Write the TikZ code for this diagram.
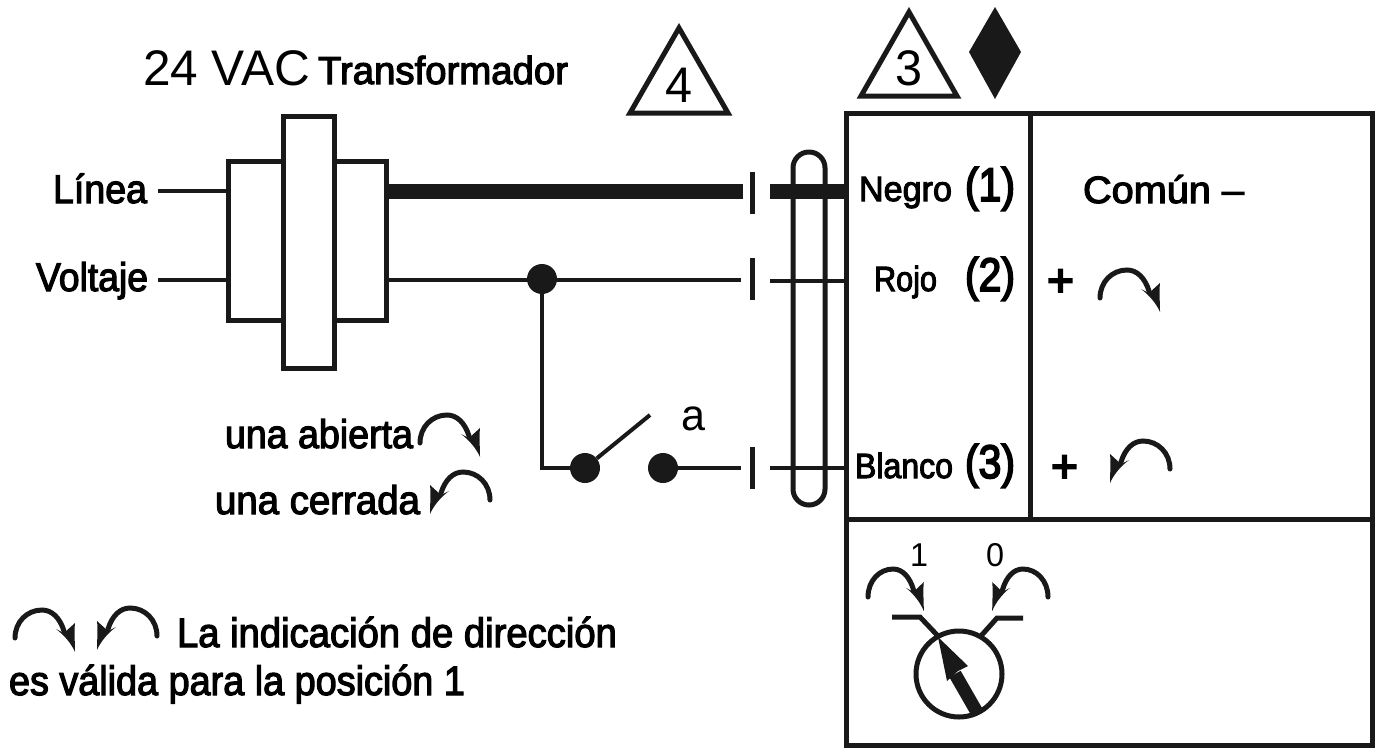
\documentclass[tikz,border=0pt]{standalone}
\usepackage{graphicx}
\usepackage{fontspec}
\setmainfont{Liberation Sans}
\newfontfamily\medf[FakeBold=3]{Liberation Sans}
\newfontfamily\hvyf[FakeBold=4]{Liberation Sans}
\newcommand{\TX}[4]{{#1\fontsize{#2}{#2}\selectfont\resizebox{#3pt}{\height}{#4}}}
\tikzset{
  wire/.style={line width=4pt,black!90},
  thickwire/.style={line width=15pt,black!90},
  frame/.style={line width=5pt,black!90},
  lab/.style={anchor=base west,inner sep=0pt,outer sep=0pt,text=black},
  dot/.style={circle,fill=black!90,minimum size=30pt,inner sep=0pt},
  tick/.style={line width=5pt,black!90},
  tri/.style={line width=5pt,black!90,line join=miter},
  bend/.pic={
    \draw[line width=5pt,black!90,line cap=round] (0,0) .. controls (0,-16) and (12,-28) .. (27,-28) .. controls (37,-28) and (45,-20) .. (49,-7);
    \fill[black!90] (60,14) .. controls (56,5) and (49,-3) .. (41,-9) -- (49,-5) -- (60,-15) .. controls (59,-6) and (60,4) .. cycle;
  }
}
\begin{document}
\begin{tikzpicture}[x=1pt,y=-1pt]
\useasboundingbox (0,0) rectangle (1376,748);
% device box
\coordinate (bTL) at (846,113); \coordinate (bBR) at (1372,745);
\draw[frame] (bTL) rectangle (bBR);
\coordinate (dT) at (1030,113); \coordinate (dB) at (1030,519);
\draw[frame] (dT) -- (dB);
\coordinate (hL) at (846,519); \coordinate (hR) at (1372,519);
\draw[frame] (hL) -- (hR);
% transformer
\coordinate (t1) at (228,161); \coordinate (t2) at (386,320);
\draw[frame] (t1) rectangle (t2);
\coordinate (c1) at (283,116); \coordinate (c2) at (334,368);
\draw[frame,fill=white] (c1) rectangle (c2);
% line stubs
\coordinate (lL) at (158,191); \coordinate (lR) at (228,191);
\coordinate (vL) at (158,280); \coordinate (vR) at (228,280);
\draw[wire] (lL) -- (lR); \draw[wire] (vL) -- (vR);
% thick wire
\coordinate (a1) at (388,191); \coordinate (a2) at (743,191);
\coordinate (a3) at (770,191); \coordinate (a4) at (846,191);
\draw[thickwire] (a1) -- (a2); \draw[thickwire] (a3) -- (a4);
% red wire
\coordinate (b1) at (386,280); \coordinate (b2) at (741,280);
\coordinate (b3) at (770,281); \coordinate (b4) at (846,281);
\draw[wire] (b1) -- (b2); \draw[wire] (b3) -- (b4);
% white wire
\coordinate (w2) at (741,468);
\coordinate (w3) at (770,468); \coordinate (w4) at (846,468);
\draw[wire] (w3) -- (w4);
% ticks
\foreach \n/\y in {p/193,q/279,r/468}{
  \coordinate (\n1) at (752,\y-21); \coordinate (\n2) at (752,\y+21);
  \draw[tick] (\n1) -- (\n2);
}
% cable loop
\draw[line width=5pt,black!90,rounded corners=15.9pt] (793,152) rectangle (825,505);
% junction and switch
\node[dot] (j) at (542,279) {};
\node[dot] (s1) at (585,468) {};
\node[dot] (s2) at (663,468) {};
\coordinate (bl) at (650,415);
\draw[wire] (j) |- (s1);
\draw[wire] (s1) -- (bl);
\draw[wire] (s2) -- (w2);
\node[lab] (la) at (681,430) {\TX{\rmfamily}{44}{24}{a}};
% triangles and diamond
\coordinate (t4a) at (679,28); \coordinate (t4b) at (728,113); \coordinate (t4c) at (630,113);
\draw[tri] (t4a) -- (t4b) -- (t4c) -- cycle;
\node[lab] (n4) at (665,102) {\TX{\rmfamily}{50}{27}{4}};
\coordinate (t3a) at (909,12); \coordinate (t3b) at (957,96); \coordinate (t3c) at (861,96);
\draw[tri] (t3a) -- (t3b) -- (t3c) -- cycle;
\node[lab] (n3) at (895,85) {\TX{\rmfamily}{50}{27}{3}};
\coordinate (d1) at (995,7); \coordinate (d2) at (1021,52); \coordinate (d3) at (995,99); \coordinate (d4) at (969,52);
\fill[black!90] (d1) -- (d2) -- (d3) -- (d4) -- cycle;
% left texts
\node[lab] (t24) at (143,85) {\TX{\rmfamily}{50}{167}{24 VAC}};
\node[lab] (ttr) at (318,84) {\TX{\medf}{39}{250}{Transformador}};
\node[lab] (tli) at (53,203) {\TX{\medf}{40}{94}{Línea}};
\node[lab] (tvo) at (36,291) {\TX{\medf}{40}{112}{Voltaje}};
\node[lab] (tab) at (225,448) {\TX{\medf}{40}{188}{una abierta}};
\node[lab] (tce) at (215,514) {\TX{\medf}{40}{205}{una cerrada}};
\node[lab] (tla) at (177,647) {\TX{\medf}{41}{440}{La indicación de dirección}};
\node[lab] (tes) at (9,695) {\TX{\medf}{41}{456}{es válida para la posición 1}};
% terminals
\node[lab] (tne) at (859,201) {\TX{\medf}{35}{93}{Negro}};
\node[lab] (tro) at (874,291) {\TX{\medf}{35}{63}{Rojo}};
\node[lab] (tbl) at (855,478) {\TX{\medf}{35}{98}{Blanco}};
\node[lab] (p1) at (965,201) {\TX{\hvyf}{47}{50}{(1)}};
\node[lab] (p2) at (965,291) {\TX{\hvyf}{47}{50}{(2)}};
\node[lab] (p3) at (965,478) {\TX{\hvyf}{47}{50}{(3)}};
\node[lab] (tco) at (1083,203) {\TX{\medf}{38}{161}{Común –}};
\node[lab] (pl1) at (1047,296) {\TX{\hvyf}{46}{27}{+}};
\node[lab] (pl2) at (1051,482) {\TX{\hvyf}{46}{27}{+}};
% curved arrows
\pic at (1100,298) {bend};
\pic[xscale=-1] at (1170,469) {bend};
\pic at (420,443) {bend};
\pic[xscale=-1] at (490,500) {bend};
\pic at (15,638) {bend};
\pic[xscale=-1] at (157,636) {bend};
\pic[xscale=.93] at (868,597) {bend};
\pic[xscale=-.93] at (1048,597) {bend};
% dial
\node[lab] (n1) at (910,566) {\TX{\rmfamily}{33}{18}{1}};
\node[lab] (n0) at (986,566) {\TX{\rmfamily}{33}{18}{0}};
\node[circle,draw=black!90,line width=5pt,minimum size=86pt,inner sep=0pt] (dial) at (959,674) {};
\coordinate (k1) at (892,617); \coordinate (k2) at (920,617); \coordinate (k3) at (938,636);
\draw[line width=5pt,black!90] (k1) -- (k2) -- (k3);
\coordinate (m1) at (1023,618); \coordinate (m2) at (997,618); \coordinate (m3) at (980,637);
\draw[line width=5pt,black!90] (m1) -- (m2) -- (m3);
\coordinate (pa) at (978,714); \coordinate (pb) at (955,674);
\draw[line width=13pt,black!90] (pa) -- (pb);
\coordinate (ptip) at (938,637); \coordinate (pl) at (947,681); \coordinate (pr) at (968,666);
\fill[black!90] (ptip) -- (pr) -- (958,671) -- (pl) -- cycle;
\end{tikzpicture}
\end{document}
